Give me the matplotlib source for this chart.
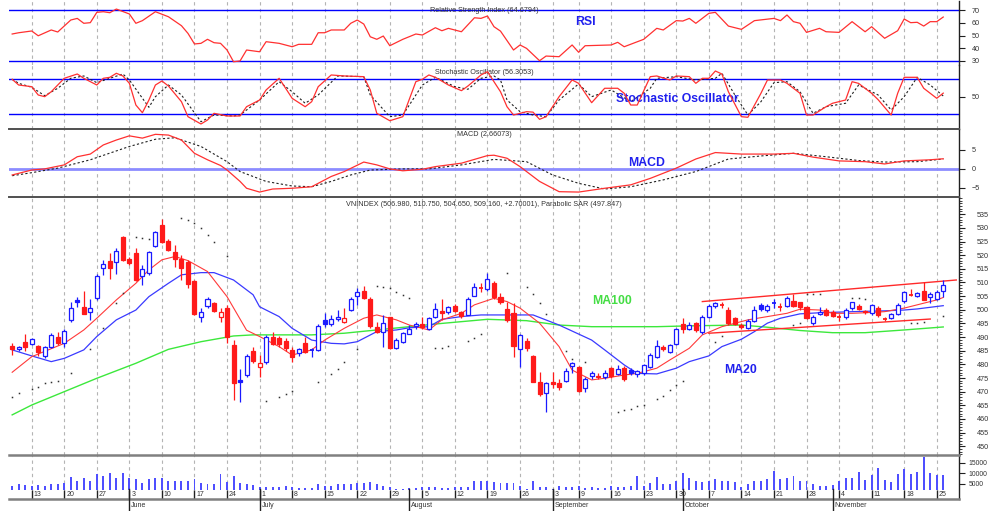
import matplotlib
matplotlib.use("Agg")
import matplotlib.pyplot as plt
import matplotlib.transforms as mtransforms
from matplotlib.patches import Rectangle
from matplotlib import font_manager
from matplotlib.ticker import MultipleLocator, FixedLocator
import pandas as pd

# ---------------- data ----------------
start_date = "2013-05-08"
end_date = "2013-11-26"
holidays = ["2013-09-02"]

opens = [486.9,485.6,488.1,487.4,486.9,483.2,486.3,490.2,487.7,496.3,
         503.5,501.1,499.1,504.4,515.4,517.9,517.4,526.8,518.6,520.7,
         512.5,513.4,523.4,531.1,525.2,521.1,518.6,517.4,510.7,497.3,
         501.5,502.4,497.3,500.8,487.1,474.2,476.1,485.0,479.2,480.8,
         490.0,489.8,488.4,485.3,484.1,488.0,485.3,485.3,496.1,494.8,
         496.7,495.6,499.9,505.2,506.9,504.0,493.8,492.0,497.3,485.9,
         488.3,491.1,494.1,494.7,492.9,497.5,499.6,499.1,501.5,499.1,
         498.1,505.2,508.3,507.5,509.7,504.8,500.2,498.7,485.6,488.5,
         483.2,473.7,469.6,473.7,473.1,474.0,479.4,479.2,471.2,475.8,
         475.4,475.5,478.6,476.5,478.8,478.0,476.5,477.0,478.9,482.8,
         486.5,484.7,487.5,494.8,493.0,495.0,492.0,497.5,501.2,502.0,
         499.9,496.9,494.4,493.2,495.8,501.8,500.0,502.2,501.0,501.4,
         503.2,502.7,501.0,495.0,498.5,500.0,499.3,497.6,497.5,500.8,
         501.5,499.6,498.7,500.8,496.8,496.9,498.3,503.2,505.5,505.1,
         506.9,504.8,504.0,506.98]
highs = [487.8,486.8,491.0,489.8,487.2,486.8,491.5,492.0,493.0,503.0,
         504.5,506.9,504.0,513.0,518.3,520.7,522.5,527.0,519.5,522.5,
         516.4,521.5,529.0,533.3,526.0,523.7,520.1,518.3,511.0,500.6,
         504.8,503.0,500.6,501.8,489.0,478.3,483.8,486.5,483.4,490.8,
         492.0,490.5,489.5,486.5,486.0,490.2,485.9,494.8,498.7,498.1,
         499.9,500.6,504.5,507.9,508.7,504.8,495.5,498.1,497.5,489.5,
         492.0,494.5,495.5,497.3,497.5,502.5,504.0,501.5,502.0,499.5,
         504.5,509.7,509.8,513.6,510.5,506.0,503.0,502.4,491.0,489.5,
         483.5,477.3,473.5,477.3,474.5,478.5,481.0,479.5,475.5,477.5,
         477.0,477.8,479.0,479.7,479.5,478.5,478.0,480.0,484.0,489.0,
         487.0,487.5,493.5,497.0,495.5,495.5,498.0,502.0,503.0,502.8,
         501.0,497.5,495.0,496.5,501.5,502.5,502.0,504.0,502.5,505.0,
         505.8,503.0,501.5,498.0,501.0,500.5,499.8,498.5,500.5,503.0,
         502.0,500.0,502.2,501.5,497.5,498.8,502.5,507.0,507.5,506.5,
         510.3,506.5,507.2,510.75]
lows = [483.5,485.0,485.0,487.0,483.1,482.5,486.0,487.2,486.5,495.6,
        501.0,498.3,496.3,503.5,512.8,511.3,513.0,518.0,516.5,510.5,
        509.1,512.8,523.0,524.5,521.5,515.8,510.9,507.9,498.0,495.6,
        500.6,499.0,495.6,487.7,467.0,466.3,475.5,480.5,475.5,480.3,
        487.1,486.5,485.0,481.0,483.0,484.1,482.6,485.0,493.8,494.0,
        496.0,495.1,499.5,501.8,504.0,493.2,491.4,486.5,485.5,485.5,
        488.0,491.0,493.0,493.0,492.5,497.0,496.3,498.5,499.0,497.0,
        498.0,505.0,506.5,507.0,504.0,502.0,495.5,482.8,479.2,485.0,
        473.5,468.5,462.7,471.5,470.5,473.5,477.0,469.8,470.0,474.5,
        474.5,474.8,475.0,476.0,474.0,476.0,475.5,476.0,478.5,482.5,
        484.8,484.0,487.0,491.5,492.5,492.0,491.0,497.0,500.5,500.5,
        494.5,494.3,493.0,492.8,495.5,499.5,499.0,500.5,499.5,501.0,
        501.0,500.0,496.5,494.5,498.0,497.8,497.3,496.0,496.5,500.0,
        499.8,498.5,498.0,497.5,495.8,496.5,498.0,502.5,505.0,504.5,
        503.5,502.5,503.5,504.65]
closes = [485.6,486.5,486.3,489.2,484.4,486.3,490.8,487.7,492.3,500.6,
          503.0,498.5,500.6,512.5,516.7,515.2,521.7,518.3,517.0,510.9,
          515.0,521.0,528.4,524.7,521.9,518.5,515.2,509.5,498.5,499.3,
          503.9,499.7,499.1,490.2,473.3,473.7,483.2,481.4,480.4,490.2,
          487.5,487.4,485.9,482.8,485.6,484.7,485.0,494.2,494.6,496.5,
          497.5,497.1,504.0,506.5,504.4,494.2,492.0,495.0,485.9,488.9,
          491.4,493.0,494.7,493.6,496.9,500.3,498.7,500.9,499.7,497.8,
          504.0,508.2,508.0,511.2,504.8,503.0,496.3,486.7,490.8,485.9,
          473.7,469.0,473.1,472.7,471.8,477.7,480.4,470.3,474.6,476.7,
          475.9,476.7,475.8,478.3,474.6,476.7,477.4,479.6,483.4,486.7,
          485.5,487.1,493.0,492.8,494.4,492.6,497.5,501.2,502.4,501.8,
          495.0,494.8,493.8,495.9,500.0,500.3,501.4,502.5,501.2,504.4,
          501.4,501.0,496.9,497.5,499.3,498.1,497.6,497.4,499.9,502.7,
          500.3,499.1,501.8,498.1,496.6,498.3,501.8,506.6,505.3,506.0,
          503.6,505.7,506.46,509.16]
volumes = [4000,4950,4440,4000,4440,4000,4780,4780,5300,8390,
           6330,7960,6330,9670,8900,10020,7960,10020,7610,7270,
           5550,7180,7960,7960,6330,6330,6330,6330,7270,5300,
           4950,4950,9500,5730,8730,5300,4950,4440,3410,3670,
           3670,3670,4000,3410,2890,2890,3240,4950,4180,4180,
           4780,4780,4780,5300,5300,5730,4780,4000,3410,2550,
           2550,3240,2890,3410,3670,3670,3240,2890,3670,3670,
           3670,6330,6330,6330,6070,5300,5300,5300,4180,2550,
           6500,3670,3410,2460,4000,3670,3410,4000,2890,3410,
           2890,2890,4000,3670,3670,4180,8730,4180,5550,8390,
           4950,4780,6500,10280,7960,6500,6070,6500,7180,6500,
           6500,5730,3410,4950,6500,6330,7180,11050,7180,7960,
           8730,6330,6330,4950,4180,4180,4440,6500,7960,7960,
           10450,6840,9160,12340,6840,6070,9500,11910,9670,10790,
           17830,10280,9160,9160]
vol_floor = 2120

ma10_idx = [0,3,8,11,13,16,19,21,23,25,27,30,33,36,38,41,43,46,48,51,
            54,56,59,61,64,66,69,71,74,76,78,81,84,86,89,91,94,96,99,101,
            104,106,109,113,119,121,124,126,129,131,134,137,139,142,143]
ma10_val = [477.1,482.8,487.7,492.6,496.9,503.6,509.7,514.6,518.3,519.5,
            518.0,514.0,504.8,492.5,490.2,486.5,483.4,485.3,488.9,493.2,
            496.9,498.1,496.3,494.4,492.6,496.3,498.7,501.8,504.2,503.0,
            500.6,495.1,486.5,477.9,474.3,474.9,476.1,476.7,478.6,481.6,
            485.9,490.8,493.8,496.3,498.7,500.2,499.9,498.7,498.7,498.9,
            499.3,500.6,501.8,503.6,504.5]
ma20_idx = [0,3,6,8,11,13,16,19,21,24,26,29,31,34,37,38,41,43,46,49,
            51,53,56,59,61,64,66,69,72,74,80,84,89,91,94,96,99,102,104,107,
            109,112,114,116,118,121,124,129,134,137,139,143]
ma20_val = [485.3,483.1,481.0,482.2,485.3,490.2,496.3,499.9,504.8,509.7,
            512.8,513.6,513.6,510.9,505.5,501.1,497.5,493.2,488.9,487.7,
            487.5,488.3,492.0,492.6,493.4,493.8,496.5,497.5,498.1,498.1,
            498.1,494.4,488.9,485.3,479.8,476.7,476.5,478.6,481.0,483.1,
            486.5,489.2,492.0,495.1,496.9,498.5,498.9,499.3,499.6,499.9,
            500.3,501.5]
ma100_idx = [0,3,8,13,19,24,29,34,37,46,51,56,61,66,73,79,84,89,99,104,
             112,116,121,126,131,137,143]
ma100_val = [461.5,465.1,470.0,474.9,480.4,485.5,488.3,490.4,490.8,490.8,
             491.4,492.6,493.8,495.0,496.5,496.0,494.4,493.8,493.8,494.1,
             494.4,493.6,492.4,491.6,491.6,492.6,493.7]

sar_idx = [0,1,3,4,5,6,7,9,12,14,16,17,19,20,21,26,27,28,29,30,31,33,
           39,41,42,43,47,49,50,51,53,56,57,58,59,60,61,65,66,67,70,71,72,
           76,79,80,81,82,85,86,88,93,94,95,96,97,99,100,101,102,103,108,109,
           120,121,122,123,124,129,130,131,136,138,139,140,143]
sar_val = [468.2,469.4,470.9,471.8,473.1,473.7,474.0,476.7,485.6,493.3,502.5,506.1,
           526.7,526.2,525.8,533.6,532.7,531.7,530.1,527.4,524.7,519.7,
           466.7,468.2,469.2,470.3,473.7,476.5,478.2,480.8,485.6,
           508.7,508.2,507.9,506.6,505.4,504.2,485.9,486.1,486.9,488.6,489.5,491.1,
           513.4,508.5,505.8,502.4,498.5,484.9,481.9,480.8,
           462.7,463.3,463.8,464.6,465.1,467.2,468.5,470.6,472.5,474.0,488.3,490.4,
           494.3,495.1,505.8,505.7,505.7,504.4,504.2,504.0,498.7,
           495.1,495.3,495.6,497.8]

channel_upper = [(106, 503.0), (145, 510.9)]
channel_lower = [(107, 491.4), (141, 496.6)]

rsi_idx = [0,1,3,4,6,7,9,10,11,12,13,14,15,16,18,19,20,22,24,26,27,28,29,30,31,32,
           33,34,35,36,38,39,41,43,44,46,47,48,49,51,52,53,54,55,56,57,58,60,62,63,
           65,66,67,69,71,72,73,74,75,77,78,79,81,82,84,86,87,88,92,93,94,97,99,100,
           102,103,104,105,107,108,110,112,114,117,118,119,120,121,122,124,125,127,
           129,131,132,134,136,137,138,139,140,141,142,143]
rsi_val = [51.2,52.2,53.6,49.8,54.4,52.8,62.3,63.6,59.7,60.2,68.4,68.9,68.1,71.0,67.1,59.7,
           61.8,68.9,64.9,57.8,51.7,43.3,43.8,47.0,44.3,43.8,
           38.5,29.2,29.8,38.5,37.1,45.1,43.8,41.1,43.0,43.0,52.2,52.2,54.4,54.4,59.7,62.3,
           59.1,49.0,47.0,49.6,41.9,47.0,51.2,50.4,
           56.2,53.8,55.7,53.0,64.1,63.6,65.5,57.0,53.5,38.5,42.5,39.8,30.0,33.7,33.2,42.5,
           36.7,41.9,42.5,44.6,41.1,47.0,55.7,54.4,
           61.8,61.5,63.6,59.7,67.6,68.4,57.5,54.9,61.8,63.6,61.8,66.3,61.0,59.7,52.5,55.7,
           53.0,52.5,
           61.0,53.0,57.0,47.8,53.8,63.1,60.2,60.5,57.5,61.0,61.0,64.68]

stk_idx = [0,1,3,4,5,6,8,10,11,13,14,15,16,17,18,19,20,21,22,23,24,26,27,29,30,31,
           33,35,36,38,39,41,42,43,45,46,47,49,51,54,55,56,58,60,62,63,64,65,67,69,
           70,72,73,75,76,77,79,80,81,82,84,86,87,89,91,93,94,95,96,98,99,101,102,
           104,105,106,107,108,109,110,112,113,115,116,118,119,121,122,123,125,126,
           128,129,130,132,133,135,136,137,139,140,142,143]
stk_val = [80.0,70.2,67.3,53.1,50.2,58.7,81.7,89.1,81.7,70.2,81.7,83.4,90.3,85.7,73.1,
           35.9,22.7,44.5,70.2,77.1,68.5,41.6,15.9,3.4,10.2,21.7,
           17.1,17.1,33.0,44.5,61.7,81.7,64.6,47.4,33.0,41.6,67.3,87.4,85.7,84.5,61.7,
           21.7,9.0,15.9,75.9,80.0,87.4,83.4,70.2,60.5,
           68.5,87.4,93.0,58.7,33.0,18.8,24.5,23.7,11.4,15.9,50.2,78.8,73.1,39.9,64.6,
           64.6,56.0,35.9,35.9,84.5,85.7,78.8,85.7,
           84.5,73.1,81.7,81.7,94.2,89.1,58.7,15.9,14.9,56.0,78.8,78.8,73.1,56.0,18.8,
           18.8,33.0,38.9,
           44.5,75.9,73.0,56.0,45.0,18.8,56.0,83.4,83.4,64.6,47.4,56.31]
std_idx = [0,1,3,5,7,9,11,13,15,17,18,21,22,24,26,29,31,34,35,38,41,43,45,47,50,54,
           55,58,60,63,65,68,70,72,74,75,76,78,80,82,84,87,89,92,95,98,99,102,105,
           108,109,111,113,115,117,119,121,123,125,128,130,133,135,137,139,141,143]
std_val = [80.0,73.1,66.3,51.9,64.6,81.7,85.7,74.2,81.7,89.1,78.8,32.0,50.2,70.2,53.1,
           7.3,18.8,17.1,18.8,44.5,75.9,58.7,38.9,53.1,85.7,84.5,
           53.1,15.9,18.8,70.2,83.4,67.3,62.9,81.7,85.7,78.8,44.5,24.5,18.8,15.9,44.5,
           72.0,50.2,61.7,41.6,64.6,81.7,84.5,78.8,
           81.7,90.3,53.1,18.8,41.6,74.2,75.9,58.7,21.7,33.0,38.9,70.2,53.1,27.4,50.2,
           83.4,70.2,51.4]

macd_idx = [0,3,5,8,10,12,14,16,18,20,22,24,26,28,30,32,33,35,36,38,40,43,46,49,51,54,
            56,58,60,63,65,69,73,74,76,78,81,84,87,91,95,98,102,105,108,112,117,120,
            123,127,131,134,137,141,143]
macd_val = [-1.6,-0.3,0.0,1.05,3.2,3.9,6.3,7.6,8.7,8.1,9.1,8.9,7.6,4.1,2.4,0.9,-0.3,
            -3.3,-5.1,-6.1,-5.3,-5.1,-4.7,-2.0,-0.7,1.8,
            1.05,0.0,-0.5,-0.1,0.6,1.5,3.5,3.6,2.8,0.6,-3.3,-6.0,-6.1,-5.1,-4.2,-2.5,
            0.2,2.6,4.3,3.9,3.9,4.1,
            3.1,2.1,1.9,1.3,2.1,2.4,2.66]
sig_idx = [0,3,7,12,18,22,25,29,33,35,39,43,46,49,52,55,60,64,69,74,79,83,87,91,95,
           100,105,110,115,120,125,130,134,139,143]
sig_val = [-1.8,-1.0,0.2,2.4,5.9,7.8,8.2,5.9,1.9,-0.7,-3.3,-4.5,-4.7,-3.3,-1.6,-0.3,
           0.0,0.0,1.05,2.5,1.9,-1.6,-3.8,-5.3,-4.7,-2.9,-0.7,2.6,3.4,4.1,3.2,2.2,1.8,
           1.9,2.6]

rsi_ticks = [30, 40, 50, 60, 70]
sto_ticks = [50]
macd_ticks = [-5, 0, 5]
price_ticks = list(range(450, 540, 5))
vol_ticks = [5000, 10000, 15000]

title_rsi = "Relative Strength Index (64.6794)"
title_sto = "Stochastic Oscillator (56.3053)"
title_macd = "MACD (2.66073)"
title_main = "VNINDEX (506.980, 510.750, 504.650, 509.160, +2.70001), Parabolic SAR (497.847)"

# ---------------- fonts ----------------
names = {f.name for f in font_manager.fontManager.ttflist}
if "Liberation Sans Narrow" in names:
    SMALL, SSCALE = "Liberation Sans Narrow", 1.0
else:
    SMALL, SSCALE = "Liberation Sans", 0.84
BOLD = "Liberation Sans" if "Liberation Sans" in names else "DejaVu Sans"

# ---------------- figure ----------------
W, H = 995, 511
fig = plt.figure(figsize=(W / 100, H / 100), dpi=100, facecolor="white")
L_PX, R_PX = 9, 959

def ax_at(top, bottom):
    return fig.add_axes([L_PX / W, 1 - bottom / H, (R_PX - L_PX) / W, (bottom - top) / H])

dates = pd.bdate_range(start_date, end_date)
dates = dates[~dates.isin(pd.to_datetime(holidays))]
n = len(closes)
xmin, xmax = -0.487, 145.42

ax_rsi = ax_at(1, 65)
ax_sto = ax_at(65, 129)
ax_macd = ax_at(129, 197)
ax_main = ax_at(197, 455)
ax_vol = ax_at(455, 499)
axes = [ax_rsi, ax_sto, ax_macd, ax_main, ax_vol]
ax_rsi.set_ylim(26.6, 77.4)
ax_sto.set_ylim(-5.2, 104.5)
ax_macd.set_ylim(-7.4, 10.5)
ax_main.set_ylim(446.8, 541.3)
VOL_LO, VOL_HI = -2123, 18632
ax_vol.set_ylim(VOL_LO, VOL_HI)

week_idx, week_lab, month_idx, month_lab = [], [], [], []
for i in range(1, len(dates)):
    if dates[i].weekday() < dates[i - 1].weekday():
        week_idx.append(i)
        week_lab.append(str(dates[i].day))
    if dates[i].month != dates[i - 1].month:
        month_idx.append(i)
        month_lab.append(dates[i].strftime("%B"))

sep_color = "#505050"
for ax in axes:
    ax.set_xlim(xmin, xmax)
    ax.set_facecolor("none")
    for s in ["left", "top", "bottom"]:
        ax.spines[s].set_visible(False)
    ax.spines["right"].set_color("#202020")
    ax.spines["right"].set_linewidth(1.0)
    ax.xaxis.set_visible(False)
    ax.yaxis.tick_right()
    ax.tick_params(axis="y", which="major", direction="out", length=4, width=0.8,
                   color="#202020", labelsize=6.2 * SSCALE, labelcolor="#333333", pad=5)
    if ax is not ax_vol:
        for wi in week_idx:
            ax.axvline(wi, color="#b4b4b4", lw=0.8, ls=(0, (3, 3)), zorder=0)

for ax in [ax_macd, ax_main, ax_vol]:
    ax.spines["top"].set_visible(True)
    ax.spines["top"].set_color(sep_color)
    ax.spines["top"].set_linewidth(1.4)
ax_vol.spines["top"].set_color("#808080")
ax_vol.spines["top"].set_linewidth(1.8)
ax_vol.spines["bottom"].set_visible(True)
ax_vol.spines["bottom"].set_color("#808080")
ax_vol.spines["bottom"].set_linewidth(1.8)

ax_rsi.yaxis.set_major_locator(FixedLocator(rsi_ticks))
ax_sto.yaxis.set_major_locator(FixedLocator(sto_ticks))
ax_macd.yaxis.set_major_locator(FixedLocator(macd_ticks))
ax_main.yaxis.set_major_locator(FixedLocator(price_ticks))
ax_main.yaxis.set_minor_locator(MultipleLocator(1))
ax_main.tick_params(axis="y", which="major", pad=9)
ax_main.tick_params(axis="y", which="minor", direction="out", length=2, width=0.6, color="#202020")
ax_vol.yaxis.set_major_locator(FixedLocator(vol_ticks))
ax_vol.tick_params(axis="y", which="major", pad=3, labelsize=5.8 * SSCALE)
for ax in axes:
    for t in ax.get_yticklabels():
        t.set_family(SMALL)

RED = "#ff1a1a"
BLUE = "#1a1aff"

# RSI
ax_rsi.axhline(70, color="#0000ff", lw=1.0, zorder=2)
ax_rsi.axhline(30, color="#0000ff", lw=1.0, zorder=2)
ax_rsi.plot(rsi_idx, rsi_val, color="#ff3030", lw=0.9, zorder=3)

# Stochastic
ax_sto.axhline(80, color="#0000ff", lw=1.0, zorder=2)
ax_sto.axhline(20, color="#0000ff", lw=1.0, zorder=2)
ax_sto.plot(std_idx, std_val, color="#202020", lw=0.8, ls=(0, (2, 2)), zorder=3)
ax_sto.plot(stk_idx, stk_val, color="#ff3030", lw=0.9, zorder=4)

# MACD
ax_macd.axhline(0, color="#8c8cff", lw=2.0, zorder=2)
ax_macd.plot(sig_idx, sig_val, color="#202020", lw=0.8, ls=(0, (2, 2)), zorder=3)
ax_macd.plot(macd_idx, macd_val, color="#ff3030", lw=0.9, zorder=4)

# main: moving averages, channel, SAR
ax_main.plot(ma100_idx, ma100_val, color="#3ce83c", lw=1.0, zorder=2)
ax_main.plot(ma20_idx, ma20_val, color="#3a3aff", lw=0.9, zorder=2)
ax_main.plot(ma10_idx, ma10_val, color="#ff3a3a", lw=0.8, zorder=2)
for seg in (channel_upper, channel_lower):
    ax_main.plot([seg[0][0], seg[1][0]], [seg[0][1], seg[1][1]], color="#ff2a2a", lw=1.0, zorder=2)
ax_main.plot(sar_idx, sar_val, ls="none", marker="s", ms=1.1, mew=0, color="#303030", zorder=2)

# candles
bw = 0.62
for i in range(n):
    o, h, l, c = opens[i], highs[i], lows[i], closes[i]
    prev = closes[i - 1] if i > 0 else o
    col = BLUE if c >= prev else RED
    filled = c < o
    ax_main.vlines(i, l, h, color=col, lw=0.9, zorder=4)
    lo, hi = min(o, c), max(o, c)
    if hi - lo < 0.35:
        ax_main.hlines((o + c) / 2, i - bw / 2, i + bw / 2, color=col, lw=1.3, zorder=5)
    else:
        ax_main.add_patch(Rectangle((i - bw / 2, lo), bw, hi - lo,
                                    facecolor=col if filled else "white",
                                    edgecolor=col, lw=0.9, zorder=5))

# volume
ax_vol.bar(range(n), [v - vol_floor for v in volumes], bottom=vol_floor,
           width=0.3, color="#4f4fff", lw=0, zorder=3)
ax_vol.vlines(week_idx, vol_floor, VOL_HI, color="#b4b4b4", lw=0.8, ls=(0, (3, 3)), zorder=0)
ax_vol.vlines(week_idx, VOL_LO, vol_floor, color="#202020", lw=1.0, zorder=2)

# date labels
tr = mtransforms.blended_transform_factory(ax_vol.transData, fig.transFigure)
for wi, lab in zip(week_idx, week_lab):
    fig.text(wi + 0.3, 1 - 494.5 / H, lab, transform=tr, fontsize=6.0 * SSCALE,
             family=SMALL, color="#333333", va="center", ha="left")
for mi, lab in zip(month_idx, month_lab):
    fig.add_artist(plt.Line2D([mi, mi], [1 - 489 / H, 0], transform=tr,
                              color="#202020", lw=1.0))
    fig.text(mi + 0.3, 1 - 505 / H, lab, transform=tr, fontsize=6.0 * SSCALE,
             family=SMALL, color="#333333", va="center", ha="left")

# panel titles
tkw = dict(ha="center", va="center", fontsize=6.2 * SSCALE, family=SMALL, color="#333333")
ax_rsi.text(0.5, 1 - 9 / 64, title_rsi, transform=ax_rsi.transAxes, **tkw)
ax_sto.text(0.5, 1 - 7 / 64, title_sto, transform=ax_sto.transAxes, **tkw)
ax_macd.text(0.5, 1 - 5 / 68, title_macd, transform=ax_macd.transAxes, **tkw)
ax_main.text(0.5, 1 - 7 / 258, title_main, transform=ax_main.transAxes, **tkw)

# annotations
akw = dict(ha="center", va="center", fontsize=8.8, family=BOLD, fontweight="bold")
ax_rsi.text(88.0, 60.7, "RSI", color="#2020ee", **akw)
ax_sto.text(102.1, 46.2, "Stochastic Oscillator", color="#2020ee", **akw)
ax_macd.text(97.4, 1.6, "MACD", color="#2020ee", **akw)
ax_main.text(92.1, 503.2, "MA100", color="#44dd44", **akw)
ax_main.text(111.9, 477.9, "MA20", color="#2020ee", **akw)

fig.savefig("out.png", dpi=100, facecolor="white")
